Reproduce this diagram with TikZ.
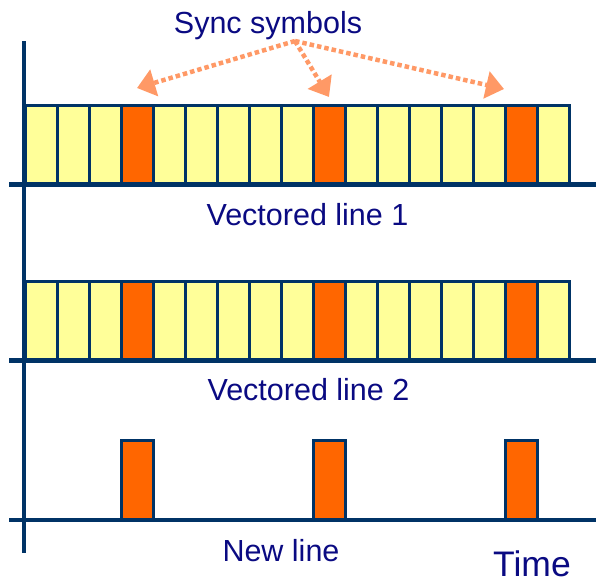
\documentclass[tikz,border=0pt]{standalone}
\usepackage{fontspec}
\setmainfont{Liberation Sans}
\usetikzlibrary{arrows.meta}
\definecolor{cellyellow}{HTML}{FFFF99}
\definecolor{syncorange}{HTML}{FF6600}
\definecolor{edgenavy}{HTML}{003366}
\definecolor{textnavy}{HTML}{0A0A82}
\definecolor{arrowpeach}{HTML}{FF9966}
\begin{document}
\begin{tikzpicture}[x=1pt,y=-1pt,
  axisline/.style={draw=edgenavy,line width=4.8pt},
  cellbox/.style={draw=edgenavy,line width=3pt,fill=cellyellow},
  syncbox/.style={draw=edgenavy,line width=3pt,fill=syncorange},
  lbl/.style={text=textnavy,font=\fontsize{30.5}{36}\selectfont,inner sep=0pt,anchor=base},
  pointer/.style={draw=arrowpeach,line width=4.5pt,dash pattern=on 4.5pt off 3pt,
    -{Triangle[length=18pt,width=27pt,fill=arrowpeach]}}]
\useasboundingbox (0,0) rectangle (596,584);
% row 1 and row 2 cells
\foreach \i in {0,...,16} {
  \draw[cellbox] ({25+32*\i},105) rectangle ({57+32*\i},184.5);
  \draw[cellbox] ({25+32*\i},281) rectangle ({57+32*\i},360.5);
}
\foreach \i in {3,9,15} {
  \draw[syncbox] ({25+32*\i},105) rectangle ({57+32*\i},184.5);
  \draw[syncbox] ({25+32*\i},281) rectangle ({57+32*\i},360.5);
  \draw[syncbox] ({25+32*\i},440.7) rectangle ({57+32*\i},520);
}
% axes
\draw[axisline] (24,41) -- (24,552.7);
\draw[axisline] (9,184.5) -- (596,184.5);
\draw[axisline] (9,360.5) -- (596,360.5);
\draw[axisline] (9,520) -- (596,520);
% labels
\node[lbl] (sync) at (268,33) {Sync symbols};
\node[lbl] (v1) at (307.5,225) {Vectored line 1};
\node[lbl] (v2) at (308.5,400) {Vectored line 2};
\node[lbl] (newl) at (281,561.7) {New line};
\node[lbl,font=\fontsize{35.5}{42}\selectfont] (time) at (532,576) {Time};
% pointers
\coordinate (src) at (295,41);
\coordinate (t1) at (137,88);
\coordinate (t2) at (329,97);
\coordinate (t3) at (504,89);
\draw[pointer] (src) -- (t1);
\draw[pointer] (src) -- (t2);
\draw[pointer] (src) -- (t3);
\end{tikzpicture}
\end{document}
